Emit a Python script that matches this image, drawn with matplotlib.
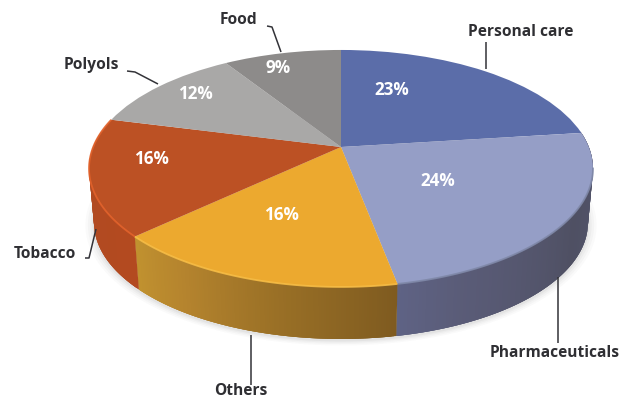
import numpy as np
import matplotlib
matplotlib.use("Agg")
import matplotlib.pyplot as plt
from matplotlib.transforms import Transform
from matplotlib.colors import to_rgb

# ---- data ----
categories = ["Personal care", "Pharmaceuticals", "Others", "Tobacco", "Polyols", "Food"]
shares = [23, 24, 16, 16, 12, 9]
pct_labels = ["23%", "24%", "16%", "16%", "12%", "9%"]
top_colors = ["#5B6DA9", "#959EC6", "#ECA92F", "#BC5124", "#A9A8A7", "#8D8B8A"]

# ---- layout ----
pct_pos = [(392, 90), (438, 181), (281, 215), (151, 159), (195, 94), (278, 68)]
name_pos = [(521, 32), (555, 353), (241, 391), (45, 254), (91, 65), (238, 20)]
leaders = [
    [(486, 42), (486, 69)],
    [(558, 277), (558, 343)],
    [(251, 335), (251, 385)],
    [(85, 258), (89, 258), (96, 229)],
    [(127, 71), (135, 72), (158, 84)],
    [(267, 26), (272, 27), (281, 52)],
]


class Persp(Transform):
    """Projects the unit pie disc on to a tilted plane, in image pixels."""
    input_dims = output_dims = 2
    is_separable = False
    has_inverse = False

    def __init__(self, drop=0.0, scale=1.0):
        super().__init__()
        self.drop, self.scale = drop, scale

    def transform_non_affine(self, values):
        v = np.asarray(values, float)
        x, y = v[:, 0], v[:, 1]
        d = 1 + 0.181 * y
        X = 247.8 * x / d
        Y = 114.6 * y / d
        return np.column_stack([341 + self.scale * X, 147 + self.drop - self.scale * Y])


top = Persp()
bottom = Persp(drop=54.8, scale=0.98)

fig = plt.figure(figsize=(6.21, 3.99), dpi=100)
ax = fig.add_axes([0, 0, 1, 1])

# soft shadow under the rim
t = np.linspace(0, 2 * np.pi, 400)
disc = np.column_stack([np.cos(t), np.sin(t)])
for grow, alpha in [(1.035, 0.03), (1.025, 0.04), (1.015, 0.05), (1.006, 0.07)]:
    pts = Persp(drop=56.5, scale=0.98 * grow).transform_non_affine(disc)
    ax.fill(pts[:, 0], pts[:, 1], color="#6b6b6b", alpha=alpha, lw=0, zorder=1)

# side wall, as overlapping shaded strips (drawn without seams)
wall_stops = {
    1: [(0.0, "#53556F"), (0.45, "#4F5063"), (0.85, "#5A5C78"), (1.0, "#5F6385")],
    2: [(0.0, "#7F5B20"), (0.4, "#9A7026"), (0.75, "#B5842E"), (1.0, "#C1922F")],
    3: [(0.0, "#B34A20"), (1.0, "#B04A22")],
}
edges = 90 - np.cumsum([0] + shares) * 3.6
N = 120
for i, stops in wall_stops.items():
    a0, a1 = edges[i], edges[i + 1]
    # limit each wall to the visible front of the pie
    if i == 1:
        a0 = 8
    if i == 3:
        a1 = -188
    th = np.radians(np.linspace(a0, a1, N))
    p = np.column_stack([np.cos(th), np.sin(th)])
    up, lo = top.transform_non_affine(p), bottom.transform_non_affine(p)
    frac = np.linspace(0, 1, N)
    rgb = np.array([to_rgb(c) for _, c in stops])
    pos = [s for s, _ in stops]
    for k in range(N - 1):
        col = [np.interp(frac[k], pos, rgb[:, n]) for n in range(3)]
        e = min(k + 3, N - 1)
        poly_x = np.r_[up[k:e + 1, 0], lo[k:e + 1, 0][::-1]]
        poly_y = np.r_[up[k:e + 1, 1], lo[k:e + 1, 1][::-1]]
        ax.fill(poly_x, poly_y, color=col, lw=0, zorder=2)

# top face, through the library's pie and the tilted plane
wedges, _ = ax.pie(shares, colors=top_colors, startangle=90, counterclock=False,
                   radius=1.0, wedgeprops=dict(linewidth=0))
for w in wedges:
    w.set_transform(top + ax.transData)
    w.set_zorder(4)

# lit bevel on the front rim
bevels = {1: "#7F88A8", 2: "#F6BC45", 3: "#E2622B"}
for i, col in bevels.items():
    a0, a1 = edges[i], edges[i + 1]
    if i == 1:
        a0 = -10
    th = np.radians(np.linspace(a0, a1, 80))
    p = top.transform_non_affine(np.column_stack([np.cos(th), np.sin(th)]))
    ax.plot(p[:, 0], p[:, 1], color=col, lw=1.3, alpha=0.9, zorder=5, solid_capstyle="butt")

ax.set_aspect("auto")
ax.set_xlim(0, 621)
ax.set_ylim(399, 0)
ax.axis("off")

font = ["Open Sans", "DejaVu Sans"]
for lab, (x, y) in zip(pct_labels, pct_pos):
    ax.text(x, y, lab, color="white", fontsize=12.3, fontweight="bold", family=font,
            ha="center", va="center", zorder=6)
for name, (x, y) in zip(categories, name_pos):
    ax.text(x, y, name, color="#2f2f33", fontsize=11.2, fontweight="bold", family=font,
            ha="center", va="center", zorder=6)
for seg in leaders:
    xs, ys = zip(*seg)
    ax.plot(xs, ys, color="#333338", lw=1.1, zorder=6, solid_capstyle="butt")

fig.savefig("out.png", dpi=100)
